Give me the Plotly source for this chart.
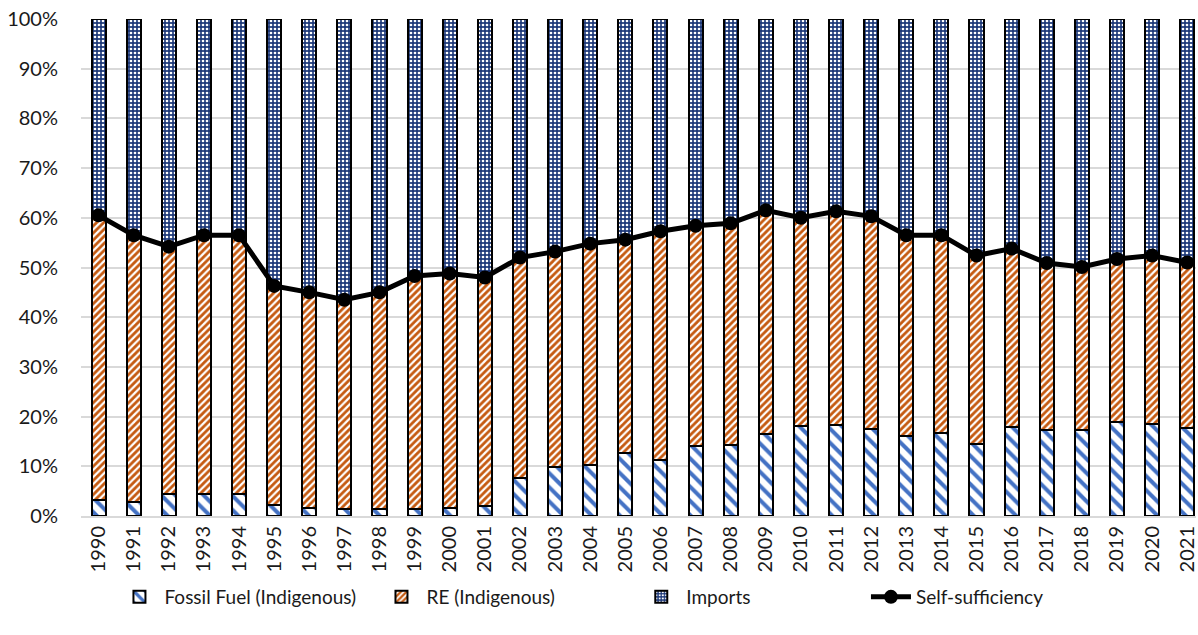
import plotly.graph_objects as go

years = [str(y) for y in range(1990, 2022)]
fossil = [3.3, 2.9, 4.4, 4.4, 4.4, 2.3, 1.7, 1.5, 1.5, 1.5, 1.7, 2.0, 7.6, 9.9, 10.2,
          12.6, 11.3, 14.1, 14.3, 16.5, 18.1, 18.4, 17.6, 16.1, 16.7, 14.5, 18.0, 17.4,
          17.3, 19.0, 18.6, 17.8]
self_suff = [60.5, 56.5, 54.2, 56.5, 56.5, 46.3, 45.0, 43.5, 45.0, 48.3, 48.8, 48.0,
             52.0, 53.2, 54.8, 55.6, 57.3, 58.4, 58.9, 61.5, 60.0, 61.3, 60.3, 56.5,
             56.5, 52.4, 53.8, 50.9, 50.1, 51.7, 52.4, 51.0]
re_ind = [round(s - f, 2) for s, f in zip(self_suff, fossil)]
imports = [round(100 - s, 2) for s in self_suff]

font_family = "Lato, 'Open Sans', sans-serif"
text_color = "#1a1a1a"

fig = go.Figure()
bar_line = dict(color="black", width=2)
fig.add_trace(go.Bar(
    x=years, y=fossil, name="Fossil Fuel (Indigenous)", legend="legend",
    marker=dict(color="white", line=bar_line,
                pattern=dict(shape="\\", fgcolor="#4472C4", bgcolor="white",
                             size=10, solidity=0.4, fillmode="replace", fgopacity=1)),
))
fig.add_trace(go.Bar(
    x=years, y=re_ind, name="RE (Indigenous)", legend="legend2",
    marker=dict(color="white", line=bar_line,
                pattern=dict(shape="/", fgcolor="#C55A11", bgcolor="white",
                             size=5, solidity=0.55, fillmode="replace", fgopacity=1)),
))
fig.add_trace(go.Bar(
    x=years, y=imports, name="Imports", legend="legend3",
    marker=dict(color="#1F3A7A", line=bar_line,
                pattern=dict(shape=".", fgcolor="white", bgcolor="#1F3A7A",
                             size=4, solidity=0.35, fillmode="replace", fgopacity=1)),
))
fig.add_trace(go.Scatter(
    x=years, y=self_suff, name="Self-sufficiency", mode="lines+markers", legend="legend4",
    line=dict(color="black", width=5),
    marker=dict(color="black", size=14),
))

def leg(xpos):
    return dict(orientation="h", x=xpos, xanchor="left", y=-0.163, yanchor="middle",
                font=dict(size=19, color=text_color), itemwidth=40,
                bgcolor="rgba(0,0,0,0)")

fig.update_layout(
    width=1198, height=635,
    barmode="stack", bargap=0.6,
    plot_bgcolor="white", paper_bgcolor="white",
    margin=dict(l=81, r=0, t=19, b=119),
    font=dict(family=font_family, size=20, color=text_color),
    showlegend=True,
    legend=leg(0.030),
    legend2=leg(0.265),
    legend3=leg(0.498),
    legend4=leg(0.704),
)
fig.update_xaxes(
    type="category", range=[-0.5, 31.25], tickangle=-90,
    showgrid=False, showline=True, linecolor="#D9D9D9", linewidth=2,
    ticks="", tickfont=dict(size=20, color=text_color),
)
fig.update_yaxes(
    range=[0, 100], dtick=10, ticksuffix="%",
    showgrid=True, gridcolor="#D9D9D9", gridwidth=2,
    zeroline=False, showline=False, ticks="", ticklabelstandoff=22,
    tickfont=dict(size=20, color=text_color),
)

fig.write_html("out.html", config={"displayModeBar": False},
               post_script="document.body.style.margin='0';")
